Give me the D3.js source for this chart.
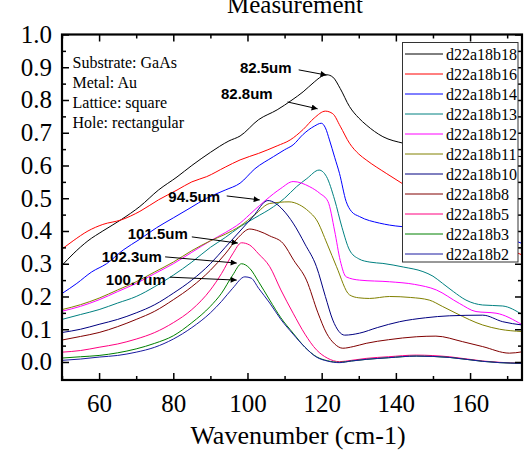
<!DOCTYPE html>
<html>
<head>
<meta charset="utf-8">
<script src="https://cdn.jsdelivr.net/npm/d3@7"></script>
<style>
  body { margin: 0; background: #fff; }
  svg { display: block; }
</style>
</head>
<body>
<svg id="chart" width="530" height="454"></svg>
<script>
// wavenumber (cm-1) / value pairs, one pair of arrays per sample
const b18Wn = [50, 53, 57, 61, 66, 71, 76, 81, 85, 90, 95, 98, 103, 108, 112, 115, 118, 120, 121.4, 123, 125, 127.5, 130, 132, 136.5, 142, 148, 155, 162, 168, 174];
const b18Val = [0.295, 0.33, 0.37, 0.40, 0.435, 0.475, 0.525, 0.565, 0.60, 0.64, 0.675, 0.69, 0.74, 0.77, 0.80, 0.825, 0.855, 0.872, 0.877, 0.87, 0.835, 0.78, 0.745, 0.724, 0.688, 0.668, 0.655, 0.648, 0.64, 0.633, 0.627];

const b16Wn = [50, 53, 57, 61, 66, 71, 76, 81, 85, 89, 94, 98, 103, 108, 111.5, 115, 118, 121, 123, 125, 127.5, 130, 132, 137.4, 142, 150, 158, 166, 174];
const b16Val = [0.345, 0.37, 0.40, 0.42, 0.434, 0.46, 0.495, 0.525, 0.55, 0.566, 0.595, 0.617, 0.637, 0.66, 0.678, 0.71, 0.745, 0.766, 0.758, 0.72, 0.668, 0.635, 0.617, 0.576, 0.543, 0.49, 0.43, 0.37, 0.327];

const b14Wn = [50, 54, 58, 62, 66.5, 71, 75.5, 80, 84.5, 89, 94, 98, 102, 107, 110, 112.3, 115, 118, 119.9, 121, 122.1, 123.5, 124.8, 126.6, 128, 130.2, 135.6, 138.3, 145, 151, 157, 163.4, 168, 174];
const b14Val = [0.209, 0.24, 0.275, 0.30, 0.342, 0.375, 0.41, 0.44, 0.47, 0.50, 0.525, 0.546, 0.59, 0.627, 0.648, 0.663, 0.695, 0.72, 0.729, 0.715, 0.678, 0.625, 0.576, 0.49, 0.46, 0.444, 0.424, 0.418, 0.41, 0.403, 0.398, 0.393, 0.385, 0.362];

const b13Wn = [50, 55, 60, 65, 70, 75, 80, 85, 90, 94, 98, 102, 107, 110, 113.2, 116, 119.3, 121.3, 123.5, 125.5, 127.5, 130, 133, 136.5, 142, 147.3, 150, 152.6, 155.5, 158.9, 163.4, 168.8, 174];
const b13Val = [0.13, 0.145, 0.16, 0.18, 0.2, 0.23, 0.265, 0.305, 0.35, 0.38, 0.413, 0.44, 0.474, 0.50, 0.535, 0.56, 0.586, 0.566, 0.495, 0.41, 0.342, 0.315, 0.305, 0.301, 0.29, 0.276, 0.262, 0.24, 0.215, 0.189, 0.174, 0.171, 0.145];

const b12Wn = [50, 55, 60, 65, 70, 75, 80, 85, 90, 94, 98, 101.5, 105, 109, 112.3, 116.8, 119.5, 121.7, 123.5, 125, 126.6, 130.2, 138.3, 145, 150.9, 157.1, 161.6, 167, 174];
const b12Val = [0.155, 0.17, 0.19, 0.215, 0.24, 0.27, 0.30, 0.335, 0.37, 0.395, 0.424, 0.46, 0.495, 0.53, 0.551, 0.535, 0.515, 0.49, 0.40, 0.31, 0.26, 0.25, 0.245, 0.237, 0.22, 0.179, 0.154, 0.149, 0.114];

const b11Wn = [50, 55, 60, 65, 70, 75, 80, 85, 90, 94, 98, 102, 106, 111.2, 114, 116.5, 118.6, 121.5, 124, 127.5, 130, 132.9, 138.3, 144, 149, 152.5, 156.2, 163.4, 168, 174];
const b11Val = [0.16, 0.175, 0.195, 0.22, 0.245, 0.275, 0.305, 0.34, 0.37, 0.39, 0.415, 0.45, 0.484, 0.489, 0.48, 0.46, 0.434, 0.36, 0.291, 0.205, 0.196, 0.194, 0.2, 0.197, 0.189, 0.17, 0.149, 0.113, 0.10, 0.093];

const b10Wn = [50, 55, 60, 65, 70, 75, 80, 85, 90, 94, 98, 101.5, 105.5, 107.5, 109.6, 112.3, 115.5, 118.6, 121, 123, 126.2, 130.2, 135, 141, 148, 154.4, 163.4, 168.8, 174];
const b10Val = [0.09, 0.10, 0.115, 0.13, 0.15, 0.175, 0.21, 0.25, 0.30, 0.35, 0.40, 0.444, 0.493, 0.485, 0.464, 0.424, 0.36, 0.291, 0.2, 0.128, 0.082, 0.088, 0.105, 0.123, 0.135, 0.141, 0.143, 0.123, 0.113];

const b8Wn = [50, 55, 60, 65, 70, 75, 80, 85, 90, 94, 97.5, 100.6, 103, 106, 109.6, 112.5, 115.9, 119, 121.3, 123.5, 125.7, 128.5, 132, 138, 145.5, 150.8, 158, 163.4, 170.6, 174];
const b8Val = [0.067, 0.078, 0.09, 0.108, 0.13, 0.155, 0.19, 0.23, 0.28, 0.33, 0.38, 0.406, 0.40, 0.385, 0.362, 0.31, 0.25, 0.15, 0.088, 0.055, 0.042, 0.047, 0.057, 0.068, 0.077, 0.079, 0.062, 0.047, 0.027, 0.031];

const b5Wn = [50, 55, 60, 65, 70, 75, 80, 85, 90, 93, 96, 98.4, 100.6, 103, 106, 109, 112.3, 115.5, 118.6, 121.5, 124.8, 128, 132, 138, 145.5, 154.4, 163.4, 168, 174];
const b5Val = [0.03, 0.035, 0.045, 0.055, 0.07, 0.09, 0.12, 0.16, 0.22, 0.27, 0.33, 0.364, 0.357, 0.33, 0.291, 0.22, 0.149, 0.085, 0.037, 0.012, 0.001, 0.005, 0.011, 0.016, 0.021, 0.016, 0.003, -0.001, -0.004];

const b3Wn = [50, 55, 60, 65, 70, 75, 80, 85, 90, 93, 96, 98.4, 100.6, 103, 106, 109, 112.3, 115.5, 118.6, 121.5, 124.8, 128, 132, 138, 145.5, 154.4, 163.4, 168, 174];
const b3Val = [0.012, 0.016, 0.02, 0.028, 0.04, 0.057, 0.08, 0.12, 0.17, 0.21, 0.265, 0.30, 0.286, 0.245, 0.189, 0.135, 0.088, 0.045, 0.016, 0.004, -0.001, 0.003, 0.008, 0.013, 0.018, 0.014, 0.002, -0.002, -0.004];

const b2Wn = [50, 55, 60, 65, 70, 75, 80, 85, 90, 93, 96, 99.3, 101, 103, 106, 109, 112.3, 115.5, 118.6, 121.5, 124.8, 128, 132, 138, 145.5, 154.4, 163.4, 168, 174];
const b2Val = [0.005, 0.009, 0.015, 0.02, 0.03, 0.045, 0.07, 0.105, 0.15, 0.185, 0.225, 0.26, 0.256, 0.225, 0.18, 0.13, 0.085, 0.045, 0.015, 0.003, -0.002, 0.003, 0.008, 0.013, 0.018, 0.014, 0.002, -0.002, -0.004];

const seriesNames = ["d22a18b18", "d22a18b16", "d22a18b14", "d22a18b13", "d22a18b12", "d22a18b11", "d22a18b10", "d22a18b8", "d22a18b5", "d22a18b3", "d22a18b2"];
const seriesColors = ["#000000", "#ff0000", "#0000ff", "#008080", "#ff00ff", "#808000", "#000080", "#800000", "#ff0080", "#008000", "#1a1aa0"];
const seriesWn = [b18Wn, b16Wn, b14Wn, b13Wn, b12Wn, b11Wn, b10Wn, b8Wn, b5Wn, b3Wn, b2Wn];
const seriesVal = [b18Val, b16Val, b14Val, b13Val, b12Val, b11Val, b10Val, b8Val, b5Val, b3Val, b2Val];

const xTicks = [60, 80, 100, 120, 140, 160];
const yTicks = [0, 0.1, 0.2, 0.3, 0.4, 0.5, 0.6, 0.7, 0.8, 0.9, 1.0];
const infoLines = ["Substrate: GaAs", "Metal: Au", "Lattice: square", "Hole: rectangular"];

// peak wavelength notes: label end point and arrow start/tip, in data units
const peakLabels = ["82.5um", "82.8um", "94.5um", "101.5um", "102.3um", "100.7um"];
const peakLabelAt = [[111.9, 0.898], [106.8, 0.821], [92.6, 0.504], [83.9, 0.391], [76.9, 0.321], [78.0, 0.253]];
const peakArrowFrom = [[113.8, 0.892], [110.8, 0.794], [94.4, 0.507], [85.0, 0.382], [77.8, 0.321], [79.1, 0.259]];
const peakArrowTo = [[121.3, 0.876], [118.9, 0.773], [103.3, 0.495], [97.4, 0.363], [97.1, 0.302], [97.1, 0.250]];

const serif = "'Liberation Serif', 'Times New Roman', serif";
const sans = "'Liberation Sans', Arial, sans-serif";

const svg = d3.select("#chart");
const frame = {left: 62, right: 522, top: 34.5, bottom: 380};

const x = d3.scaleLinear().domain([50, 174]).range([frame.left, frame.right]);
const y = d3.scaleLinear().domain([-0.055, 1.0]).range([frame.bottom, frame.top]);

svg.append("defs").append("clipPath").attr("id", "plot-clip")
  .append("rect")
  .attr("x", frame.left).attr("y", frame.top)
  .attr("width", frame.right - frame.left).attr("height", frame.bottom - frame.top);

const line = d3.line()
  .x(d => x(d[0]))
  .y(d => y(d[1]))
  .curve(d3.curveMonotoneX);

const curves = svg.append("g").attr("clip-path", "url(#plot-clip)");
seriesNames.forEach((name, i) => {
  const pts = seriesWn[i].map((w, j) => [w, seriesVal[i][j]]);
  curves.append("path")
    .datum(pts)
    .attr("fill", "none")
    .attr("stroke", seriesColors[i])
    .attr("stroke-width", 1)
    .attr("d", line);
});

// axes: ticks point inward on all four sides
const minorX = d3.range(50, 175, 10).filter(v => !xTicks.includes(v));
const minorY = d3.range(0.05, 1.0, 0.1);

const axisBottom = d3.axisBottom(x).tickValues(xTicks).tickSizeInner(-7).tickSizeOuter(0).tickPadding(14).tickFormat(d3.format("d"));
const axisTop = d3.axisTop(x).tickValues(xTicks).tickSizeInner(-7).tickSizeOuter(0).tickFormat("");
const axisLeft = d3.axisLeft(y).tickValues(yTicks).tickSizeInner(-7).tickSizeOuter(0).tickPadding(10).tickFormat(d3.format(".1f"));
const axisRight = d3.axisRight(y).tickValues(yTicks).tickSizeInner(-7).tickSizeOuter(0).tickFormat("");

const styleAxis = (g) => {
  g.select(".domain").remove();
  g.selectAll(".tick line").attr("stroke", "#000").attr("stroke-width", 1.5);
  g.selectAll(".tick text").attr("fill", "#000").style("font-family", serif).style("font-size", "25px");
};

svg.append("g").attr("transform", `translate(0,${frame.bottom})`).call(axisBottom).call(styleAxis);
svg.append("g").attr("transform", `translate(0,${frame.top})`).call(axisTop).call(styleAxis);
svg.append("g").attr("transform", `translate(${frame.left},0)`).call(axisLeft).call(styleAxis);
svg.append("g").attr("transform", `translate(${frame.right},0)`).call(axisRight).call(styleAxis);

const minorB = d3.axisBottom(x).tickValues(minorX).tickSizeInner(-4).tickSizeOuter(0).tickFormat("");
const minorT = d3.axisTop(x).tickValues(minorX).tickSizeInner(-4).tickSizeOuter(0).tickFormat("");
const minorL = d3.axisLeft(y).tickValues(minorY).tickSizeInner(-4).tickSizeOuter(0).tickFormat("");
const minorR = d3.axisRight(y).tickValues(minorY).tickSizeInner(-4).tickSizeOuter(0).tickFormat("");
svg.append("g").attr("transform", `translate(0,${frame.bottom})`).call(minorB).call(styleAxis);
svg.append("g").attr("transform", `translate(0,${frame.top})`).call(minorT).call(styleAxis);
svg.append("g").attr("transform", `translate(${frame.left},0)`).call(minorL).call(styleAxis);
svg.append("g").attr("transform", `translate(${frame.right},0)`).call(minorR).call(styleAxis);

svg.append("rect")
  .attr("x", frame.left).attr("y", frame.top)
  .attr("width", frame.right - frame.left).attr("height", frame.bottom - frame.top)
  .attr("fill", "none").attr("stroke", "#000").attr("stroke-width", 2.2);

// titles (the top title sits partly above the page edge, as in the source)
svg.append("text")
  .attr("x", 295).attr("y", 13)
  .attr("text-anchor", "middle")
  .style("font-family", serif).style("font-size", "25px")
  .text("Measurement");

svg.append("text")
  .attr("x", 298).attr("y", 444)
  .attr("text-anchor", "middle")
  .style("font-family", serif).style("font-size", "26px")
  .text("Wavenumber (cm-1)");

// sample info
svg.append("g").selectAll("text")
  .data(infoLines)
  .join("text")
  .attr("x", 72.5)
  .attr("y", (d, i) => 67.5 + i * 20)
  .style("font-family", serif).style("font-size", "16px")
  .text(d => d);

// peak arrows
svg.select("defs").append("marker")
  .attr("id", "arrowhead")
  .attr("viewBox", "0 0 10 10")
  .attr("refX", 10).attr("refY", 5)
  .attr("markerWidth", 9).attr("markerHeight", 6)
  .attr("markerUnits", "userSpaceOnUse")
  .attr("orient", "auto")
  .append("path").attr("d", "M0,0 L10,5 L0,10 Z").attr("fill", "#000");

const notes = svg.append("g");
peakLabels.forEach((lab, i) => {
  notes.append("line")
    .attr("x1", x(peakArrowFrom[i][0])).attr("y1", y(peakArrowFrom[i][1]))
    .attr("x2", x(peakArrowTo[i][0])).attr("y2", y(peakArrowTo[i][1]))
    .attr("stroke", "#000").attr("stroke-width", 1)
    .attr("marker-end", "url(#arrowhead)");
  notes.append("text")
    .attr("x", x(peakLabelAt[i][0]))
    .attr("y", y(peakLabelAt[i][1]) + 5.5)
    .attr("text-anchor", "end")
    .style("font-family", sans).style("font-size", "15px").style("font-weight", "bold")
    .text(lab);
});

// legend
const legend = svg.append("g");
legend.append("rect")
  .attr("x", 402.5).attr("y", 42.5)
  .attr("width", 115.5).attr("height", 219.5)
  .attr("fill", "#fff").attr("stroke", "#333").attr("stroke-width", 1);

const rows = legend.selectAll("g.row")
  .data(seriesNames)
  .join("g")
  .attr("class", "row")
  .attr("transform", (d, i) => `translate(0,${54 + i * 20})`);
rows.append("line")
  .attr("x1", 405).attr("x2", 443)
  .attr("stroke", (d, i) => seriesColors[i]).attr("stroke-width", 1);
rows.append("text")
  .attr("x", 446).attr("y", 5.5)
  .style("font-family", serif).style("font-size", "16px")
  .text(d => d);
</script>
</body>
</html>
